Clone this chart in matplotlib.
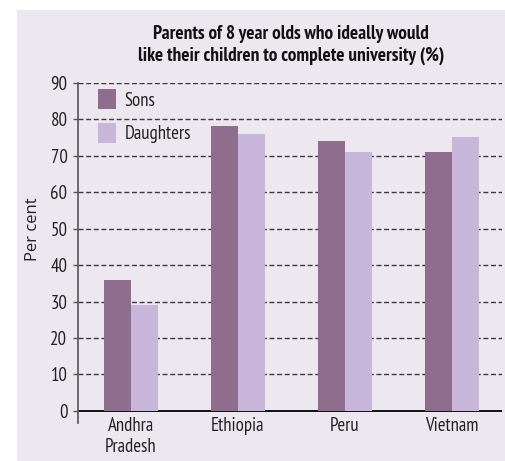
import matplotlib
matplotlib.use("Agg")
import matplotlib.pyplot as plt
from matplotlib.patches import Rectangle
import numpy as np

# Data
regions = ["Andhra\nPradesh", "Ethiopia", "Peru", "Vietnam"]
sons = [36, 78, 74, 71]
daughters = [29, 76, 71, 75]
series_names = ["Sons", "Daughters"]
y_ticks = [0, 10, 20, 30, 40, 50, 60, 70, 80, 90]

SONS_COLOR = "#8f6e8d"
DAUGHTERS_COLOR = "#c8b7da"
PANEL_BG = "#ede8ef"
NARROW = ["PT Sans Narrow", "DejaVu Sans"]

W, H = 506, 461
fig = plt.figure(figsize=(W / 100, H / 100), dpi=100, facecolor="white")

# Tinted panel behind the whole chart
fig.patches.append(Rectangle((17 / W, 0), 1 - 17 / W, 1 - 10 / H,
                             transform=fig.transFigure, facecolor=PANEL_BG,
                             edgecolor="none", zorder=-10))

ax = fig.add_axes([78 / W, 1 - 423 / H, (502 - 78) / W, (423 - 82.7) / H])
ax.set_facecolor("none")

x = np.arange(len(regions))
bw = 0.25
ax.bar(x - bw / 2, sons, width=bw, color=SONS_COLOR, zorder=3, label=series_names[0])
ax.bar(x + bw / 2, daughters, width=bw, color=DAUGHTERS_COLOR, zorder=3, label=series_names[1])

ax.set_xlim(-0.495, 3.467)
ax.set_ylim(-3.3, 90)

# Dashed gridlines and solid baseline
for yv in y_ticks[1:]:
    ax.axhline(yv, color="#3a3a3a", lw=1.0, ls=(0, (3.6, 1.9)), zorder=1)
ax.axhline(0, color="black", lw=1.3, zorder=2)

for s in ["top", "right", "bottom"]:
    ax.spines[s].set_visible(False)
ax.spines["left"].set_color("#555555")
ax.spines["left"].set_linewidth(1.2)

ax.set_yticks(y_ticks)
ax.set_yticklabels([str(v) for v in y_ticks], family=NARROW, fontsize=13.5, color="#222222")
ax.tick_params(axis="y", direction="out", length=3.6, width=1.0, color="#555555", pad=4.0)

ax.set_xticks(x)
ax.set_xticklabels(regions, family=NARROW, fontsize=13.5, color="#222222", linespacing=1.2)
ax.tick_params(axis="x", length=0, pad=-4.0)

fig.text(33 / W, 1 - 229 / H, "Per cent", rotation=90, ha="center", va="center",
         fontsize=12, color="#222222", family=["Open Sans", "DejaVu Sans"])

fig.text(291 / W, 1 - 45 / H,
         "Parents of 8 year olds who ideally would\nlike their children to complete university (%)",
         ha="center", va="center", fontsize=13.8, fontweight="bold", family=NARROW,
         color="#111111", linespacing=1.25)

leg = ax.legend(loc="upper left", bbox_to_anchor=(20 / 424, 1 - 6.3 / 340.3),
                frameon=False, borderaxespad=0, borderpad=0,
                handlelength=0.96, handleheight=1.3, handletextpad=0.45,
                labelspacing=0.7, prop={"family": NARROW, "size": 13.5})
for t in leg.get_texts():
    t.set_color("#222222")

fig.savefig("out.png", dpi=100, facecolor="white")
